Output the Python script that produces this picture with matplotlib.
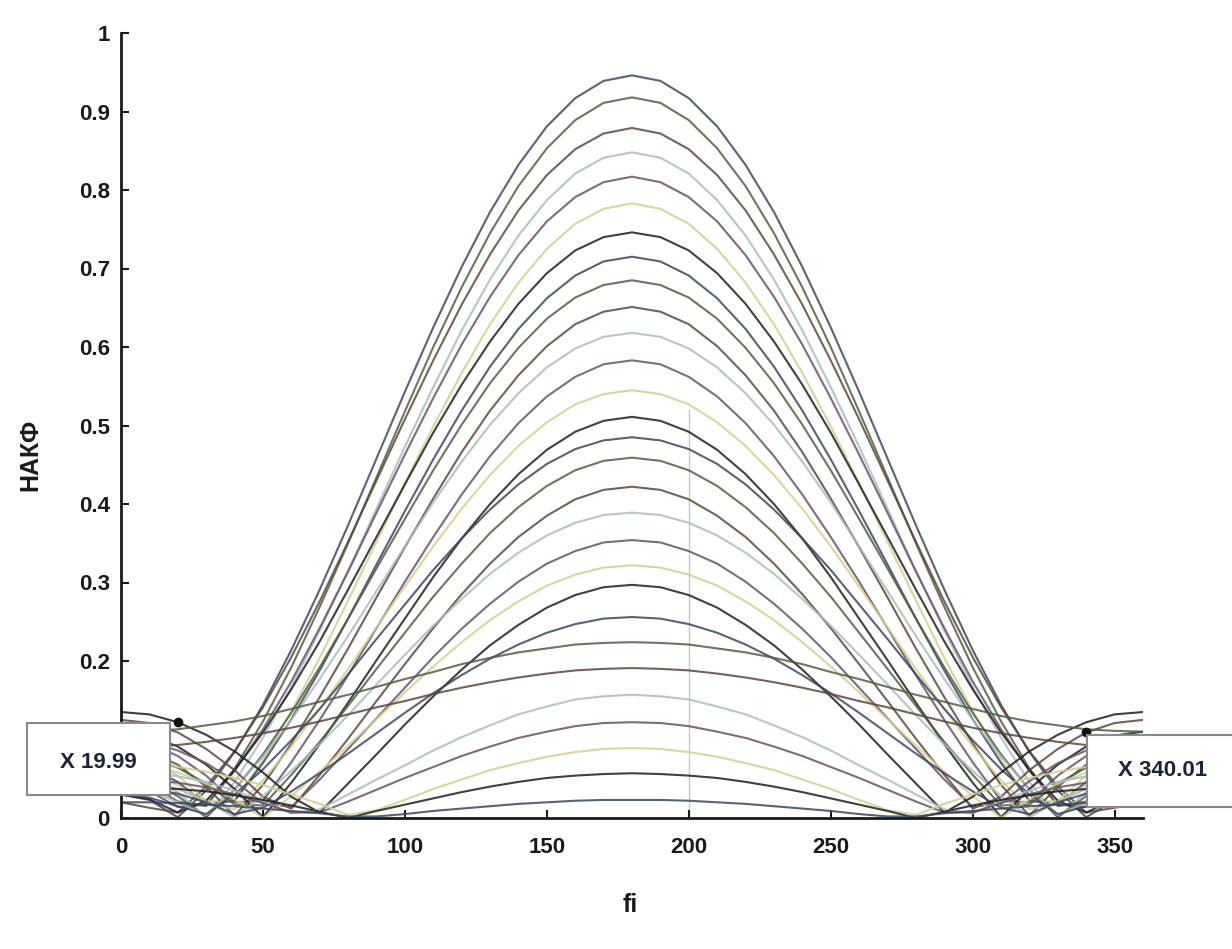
import matplotlib.pyplot as plt
from matplotlib.patches import Rectangle

# phase angle, degrees (0..360 step 10)
fi = list(range(0, 361, 10))

# НАКФ values read at fi = 0..180 (step 10); the curves are symmetric about 180
nakf_half = [
    [.030, .023, .001, .035, .084, .144, .214, .291, .373, .458, .543, .625, .702, .772, .832, .881, .917, .939, .946],
    [.050, .043, .021, .015, .063, .123, .192, .269, .350, .434, .518, .600, .676, .745, .805, .853, .889, .911, .918],
    [.020, .013, .007, .040, .085, .141, .205, .276, .352, .430, .508, .583, .654, .718, .774, .819, .852, .872, .879],
    [.060, .053, .033, .001, .046, .102, .167, .239, .315, .394, .473, .549, .621, .686, .742, .787, .821, .841, .848],
    [.040, .034, .014, .017, .060, .113, .174, .242, .314, .389, .463, .535, .603, .664, .717, .760, .791, .810, .817],
    [.080, .073, .054, .022, .021, .074, .136, .204, .277, .352, .426, .499, .567, .629, .682, .725, .757, .776, .783],
    [.030, .024, .007, .022, .061, .109, .164, .225, .291, .358, .425, .491, .552, .607, .655, .694, .723, .740, .746],
    [.070, .064, .046, .017, .022, .070, .126, .188, .254, .323, .391, .457, .519, .575, .623, .662, .691, .709, .715],
    [.050, .044, .028, .001, .036, .081, .134, .192, .254, .318, .381, .443, .501, .554, .599, .636, .663, .679, .685],
    [.090, .084, .068, .040, .003, .042, .095, .154, .216, .281, .345, .407, .466, .519, .564, .601, .629, .645, .651],
    [.040, .035, .020, .004, .037, .078, .125, .177, .232, .289, .346, .402, .454, .501, .541, .574, .598, .613, .618],
    [.100, .095, .079, .054, .020, .022, .071, .125, .182, .242, .301, .358, .412, .461, .503, .537, .562, .578, .583],
    [.060, .055, .042, .020, .011, .048, .091, .139, .190, .243, .295, .346, .394, .437, .474, .504, .527, .540, .545],
    [.110, .105, .091, .068, .037, .001, .045, .094, .147, .201, .254, .307, .356, .400, .438, .469, .492, .506, .511],
    [.030, .026, .015, .005, .030, .062, .099, .139, .183, .228, .272, .316, .356, .393, .425, .451, .470, .481, .485],
    [.080, .076, .064, .044, .017, .016, .055, .097, .143, .190, .236, .282, .324, .363, .396, .423, .443, .455, .459],
    [.125, .121, .109, .088, .061, .027, .012, .055, .101, .149, .196, .242, .285, .324, .358, .385, .406, .418, .422],
    [.050, .047, .037, .021, .001, .028, .060, .094, .131, .170, .208, .245, .279, .311, .338, .360, .376, .386, .389],
    [.100, .097, .086, .070, .047, .019, .014, .049, .088, .127, .166, .205, .241, .273, .301, .324, .340, .351, .354],
    [.070, .067, .058, .044, .024, .000, .028, .059, .092, .126, .160, .193, .224, .252, .276, .296, .310, .319, .322],
    [.135, .132, .122, .106, .085, .058, .027, .007, .044, .081, .119, .155, .189, .220, .246, .268, .284, .294, .297],
    [.040, .038, .031, .020, .005, .013, .034, .057, .082, .108, .134, .159, .182, .203, .221, .236, .247, .254, .256],
    [.110, .111, .113, .118, .123, .130, .139, .148, .157, .167, .177, .186, .196, .204, .211, .216, .221, .223, .224],
    [.090, .091, .093, .097, .102, .108, .115, .123, .132, .141, .149, .158, .166, .173, .179, .184, .188, .190, .191],
    [.060, .058, .053, .046, .035, .021, .006, .011, .030, .049, .067, .086, .103, .118, .132, .142, .151, .155, .157],
    [.050, .049, .045, .039, .030, .019, .007, .007, .021, .036, .051, .065, .079, .091, .102, .110, .117, .121, .122],
    [.070, .069, .065, .059, .051, .042, .030, .018, .004, .010, .023, .037, .049, .061, .070, .078, .084, .088, .089],
    [.040, .039, .037, .034, .029, .023, .016, .008, .000, .009, .017, .025, .033, .040, .046, .051, .054, .056, .057],
    [.020, .020, .019, .017, .015, .012, .009, .006, .002, .002, .005, .009, .012, .015, .018, .020, .022, .023, .023],
]
nakf = [row + row[-2::-1] for row in nakf_half]

# data tips (curve number, index into fi)
tip_left_curve = 20
tip_left_idx = 2
tip_left_text = 'X 19.99'
tip_right_curve = 16
tip_right_idx = 34
tip_right_text = 'X 340.01'

# MATLAB colour order as it came out of the scan
scan_colors = ['#3c4660', '#4f6040', '#5e463c', '#a9bcbc',
               '#6a5068', '#cfd08a', '#1e1e1e']

fig = plt.figure(figsize=(12.32, 9.49), dpi=100)
ax = fig.add_axes([121 / 1232, 1 - 818 / 949, 1022 / 1232, 785 / 949])

ax.axvline(200, ymax=0.52, color='#c8c8c8', lw=1.0, zorder=0)

for i, row in enumerate(nakf):
    ax.plot(fi, row, color=scan_colors[i % 7], lw=1.5, alpha=0.85,
            solid_joinstyle='round')

ax.set_xlim(0, 360)
ax.set_ylim(0, 1)
ax.set_xticks([0, 50, 100, 150, 200, 250, 300, 350])
ax.set_yticks([0, 0.2, 0.3, 0.4, 0.5, 0.6, 0.7, 0.8, 0.9, 1])
ax.set_yticklabels(['0', '0.2', '0.3', '0.4', '0.5', '0.6', '0.7', '0.8', '0.9', '1'])
for s in ['top', 'right']:
    ax.spines[s].set_visible(False)
for s in ['left', 'bottom']:
    ax.spines[s].set_linewidth(2.0)
    ax.spines[s].set_color('#1a1a1a')
ax.tick_params(direction='in', length=6, width=1.5, colors='#1a1a1a')
ax.tick_params(axis='x', pad=14)
ax.tick_params(axis='y', pad=8)
for lab in ax.get_xticklabels() + ax.get_yticklabels():
    lab.set_fontfamily('Liberation Sans')
    lab.set_fontweight('bold')
    lab.set_fontsize(16)

fig.text(30 / 1232, 1 - 455 / 949, 'НАКФ', rotation=90, ha='center', va='center',
         fontsize=18, fontweight='bold', family='Liberation Sans', color='#1a1a1a')
fig.text(630 / 1232, 1 - 905 / 949, 'fi', ha='center', va='center',
         fontsize=18, fontweight='bold', family='Liberation Sans', color='#1a1a1a')

# data tip markers and boxes
ax.plot(fi[tip_left_idx], nakf[tip_left_curve][tip_left_idx], 'o', color='#111111',
        ms=6, zorder=5, clip_on=False)
ax.plot(fi[tip_right_idx], nakf[tip_right_curve][tip_right_idx], 'o', color='#111111',
        ms=6, zorder=5, clip_on=False)

fig.add_artist(Rectangle((27 / 1232, 1 - 795 / 949), 143 / 1232, 72 / 949,
                         transform=fig.transFigure, facecolor='white',
                         edgecolor='#8a8a8a', lw=1.5, zorder=3))
fig.add_artist(Rectangle((1087 / 1232, 1 - 807 / 949), 160 / 1232, 72 / 949,
                         transform=fig.transFigure, facecolor='white',
                         edgecolor='#8a8a8a', lw=1.5, zorder=3))
fig.text(98 / 1232, 1 - 763 / 949, tip_left_text, ha='center', va='center',
         fontsize=16, fontweight='bold', family='Liberation Sans',
         color='#1c2438', zorder=4)
fig.text(1163 / 1232, 1 - 770 / 949, tip_right_text, ha='center', va='center',
         fontsize=16, fontweight='bold', family='Liberation Sans',
         color='#1c2438', zorder=4)

fig.savefig('out.png', dpi=100)
